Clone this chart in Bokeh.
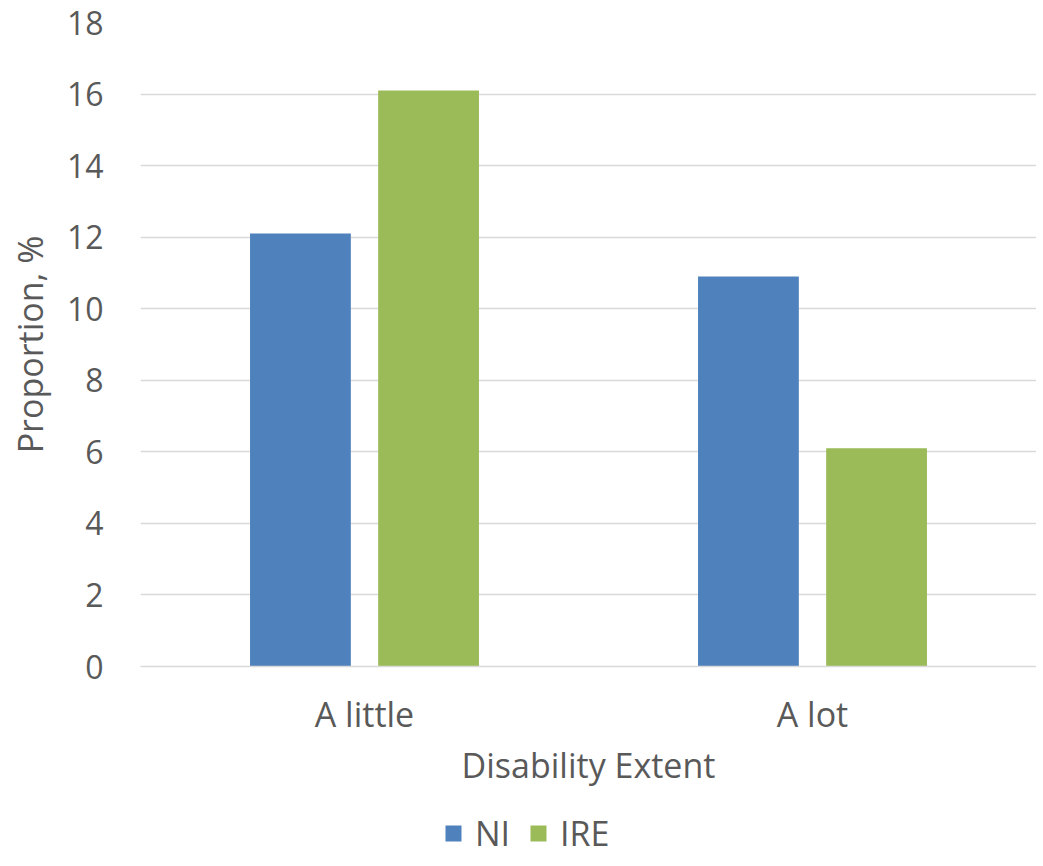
from bokeh.plotting import figure
from bokeh.models import Legend, LegendItem, ColumnDataSource
from bokeh.layouts import column
from bokeh.transform import dodge
from bokeh.embed import file_html
from bokeh.resources import INLINE

categories = ["A little", "A lot"]
ni_values = [12.1, 10.9]
ire_values = [16.1, 6.1]
series_names = ["NI", "IRE"]
y_ticks = [0, 2, 4, 6, 8, 10, 12, 14, 16, 18]

FONT = "Open Sans"
TXT = "#595959"
NI_COLOR = "#4f81bd"
IRE_COLOR = "#9bbb59"

src = ColumnDataSource(dict(cat=categories, ni=ni_values, ire=ire_values))

p = figure(x_range=categories, y_range=(0, 18), output_backend="svg",
           toolbar_location=None, frame_width=896, frame_height=644,
           min_border_left=140, min_border_top=22, min_border_right=0,
           min_border_bottom=142)
p.outline_line_color = None
p.background_fill_color = "white"

r1 = p.vbar(x=dodge("cat", -0.143, range=p.x_range), top="ni", width=0.225,
            source=src, fill_color=NI_COLOR, line_color=None)
r2 = p.vbar(x=dodge("cat", 0.143, range=p.x_range), top="ire", width=0.225,
            source=src, fill_color=IRE_COLOR, line_color=None)

p.yaxis.ticker = y_ticks
p.ygrid.grid_line_color = "#d9d9d9"
p.ygrid.grid_line_width = 1.5
p.xgrid.grid_line_color = None

for ax in (p.xaxis[0], p.yaxis[0]):
    ax.major_tick_line_color = None
    ax.minor_tick_line_color = None
    ax.major_label_text_font = FONT
    ax.major_label_text_color = TXT
    ax.axis_label_text_font = FONT
    ax.axis_label_text_font_size = "34px"
    ax.axis_label_text_color = TXT
    ax.axis_label_text_font_style = "normal"

p.yaxis.major_label_text_font_size = "32px"
p.xaxis.major_label_text_font_size = "34px"

p.yaxis.axis_line_color = None
p.yaxis.major_label_standoff = 31
p.yaxis.axis_label = "Proportion, %"
p.yaxis.axis_label_standoff = 11

p.xaxis.axis_line_color = "#d9d9d9"
p.xaxis.axis_line_width = 1.5
p.xaxis.major_label_standoff = 18
p.xaxis.axis_label = "Disability Extent"
p.xaxis.axis_label_standoff = 2

# legend strip below the chart (its bars lie outside its (0, 1) ranges)
lg = figure(width=1036, height=50, x_range=(0, 1), y_range=(0, 1),
            output_backend="svg", toolbar_location=None,
            x_axis_location=None, y_axis_location=None,
            min_border=0, min_border_left=0, min_border_right=0,
            min_border_top=0, min_border_bottom=0)
lg.outline_line_color = None
lg.grid.grid_line_color = None
d1 = lg.vbar(x="ni", top="ni", width=0.1, source=src,
             fill_color=NI_COLOR, line_color=None)
d2 = lg.vbar(x="ire", top="ire", width=0.1, source=src,
             fill_color=IRE_COLOR, line_color=None)

legend = Legend(items=[LegendItem(label=series_names[0], renderers=[d1], index=0),
                       LegendItem(label=series_names[1], renderers=[d2], index=0)],
                orientation="horizontal", location=(303, 2),
                label_text_font=FONT, label_text_font_size="34px",
                label_text_color=TXT, glyph_width=20, glyph_height=20,
                label_standoff=12, spacing=18, padding=0, margin=0,
                label_height=20,
                border_line_color=None, background_fill_alpha=0)
lg.add_layout(legend, "center")

layout = column(p, lg, spacing=0)
open("out.html", "w").write(file_html(layout, INLINE))
